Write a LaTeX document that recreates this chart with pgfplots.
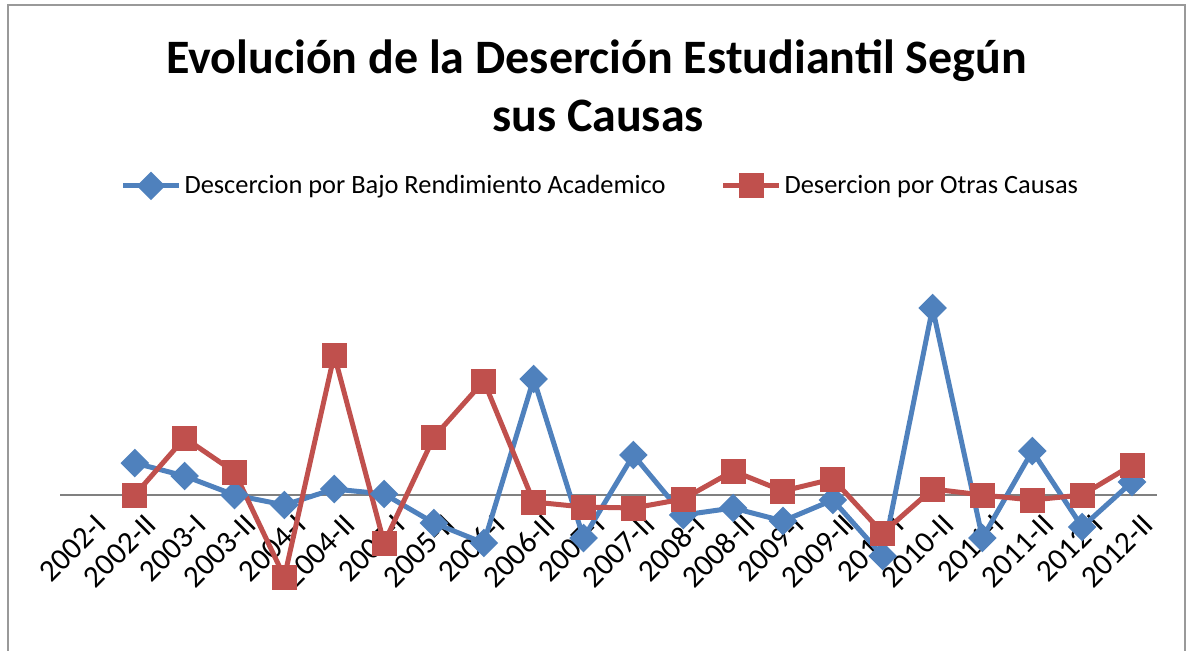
\documentclass[border=0pt]{standalone}
\usepackage{pgfplots}
\pgfplotsset{compat=1.18}
\usepackage{fontspec}
\setmainfont{Carlito}
\definecolor{cblue}{HTML}{4F81BD}
\definecolor{cred}{HTML}{C0504D}
\begin{document}
\begin{tikzpicture}
\useasboundingbox (0,0) rectangle (593pt,325pt);
\begin{scope}
\clip (0,0) rectangle (593pt,325pt);
\draw[gray!80, line width=1pt] (4pt,-20pt) -- (4pt,322.5pt) -- (592.5pt,322.5pt) -- (592.5pt,-20pt);
\end{scope}
\node[anchor=base, font=\fontsize{24}{29}\selectfont\bfseries] at (298.25pt,288.5pt) {Evolución de la Deserción Estudiantil Según};
\node[anchor=base, font=\fontsize{24}{29}\selectfont\bfseries] at (299pt,259.5pt) {sus Causas};
\begin{axis}[
  at={(30pt,12.5pt)}, anchor=south west,
  x=24.93pt, y=0.5pt,
  xmin=-0.5, xmax=21.5, ymin=-130, ymax=260,
  axis x line*=middle, axis y line=none,
  x axis line style={gray, line width=0.8pt},
  xtick={0,...,21},
  xticklabels={2002-I,2002-II,2003-I,2003-II,2004-I,2004-II,2005-I,2005-II,2006-I,2006-II,2007-I,2007-II,2008-I,2008-II,2009-I,2009-II,2010-I,2010-II,2011-I,2011-II,2012-I,2012-II},
  major tick length=0pt,
  xticklabel style={rotate=45, anchor=east, font=\fontsize{15.5}{18}\selectfont, xshift=0.5pt, yshift=-14.5pt},
  clip=false,
  legend style={at={(0.493,1.126)}, anchor=center, draw=none, fill=none, font=\fontsize{13.2}{16}\selectfont, legend columns=2, /tikz/every even column/.append style={column sep=26pt}, nodes={inner xsep=1.5pt}},
  legend image code/.code={\draw[mark repeat=2,mark phase=2] plot coordinates {(0pt,0pt)(14pt,0pt)(28pt,0pt)};},
]
\addplot[cblue, line width=2.5pt, mark=square*, mark size=3.8pt, mark options={rotate=45, solid}] coordinates {
(1,32)(2,19)(3,0)(4,-10)(5,6)(6,1)(7,-28)(8,-48)(9,116)(10,-43)(11,40)(12,-20)(13,-13)(14,-26)(15,-5)(16,-61)(17,187)(18,-43)(19,44)(20,-32)(21,13)};
\addlegendentry{Descercion por Bajo Rendimiento Academico}
\addplot[cred, line width=2.5pt, mark=square*, mark size=5pt, mark options={solid}] coordinates {
(1,0)(2,57)(3,23)(4,-82)(5,140)(6,-48)(7,58)(8,114)(9,-7)(10,-12)(11,-13)(12,-4)(13,24)(14,4)(15,16)(16,-38)(17,6)(18,0)(19,-5)(20,0)(21,30)};
\addlegendentry{Desercion por Otras Causas}
\end{axis}
\end{tikzpicture}
\end{document}
